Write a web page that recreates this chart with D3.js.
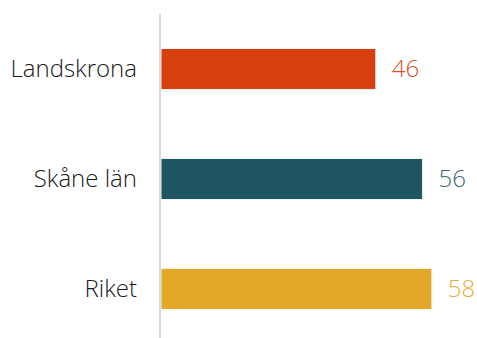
<!DOCTYPE html>
<html>
<head>
<meta charset="utf-8">
<script src="https://cdn.jsdelivr.net/npm/d3@7"></script>
<style>
  html, body { margin: 0; padding: 0; background: #ffffff; }
  svg { display: block; }
  text { font-family: "Open Sans", "Lato", sans-serif; font-weight: 300; }
</style>
</head>
<body>
<svg id="chart" width="477" height="338"></svg>
<script>
// Region names and their values
const categories = ["Landskrona", "Skåne län", "Riket"];
const values = [46, 56, 58];
const barColors = ["#d83f0f", "#1f5560", "#e4a828"];
const labelColors = ["#d9502a", "#3a6870", "#e8ad38"];

const width = 477, height = 338;
const axisX = 160;

const svg = d3.select("#chart");

const y = d3.scaleBand()
  .domain(categories)
  .range([14, 344])
  .paddingInner(0.627)
  .paddingOuter(0.3136);

const x = d3.scaleLinear()
  .domain([0, 100])
  .range([axisX + 1, axisX + 1 + 467]);

// Bars
svg.selectAll("rect.bar")
  .data(categories)
  .join("rect")
  .attr("class", "bar")
  .attr("x", x(0))
  .attr("y", d => y(d))
  .attr("width", (d, i) => x(values[i]) - x(0))
  .attr("height", y.bandwidth())
  .attr("fill", (d, i) => barColors[i])
  .attr("stroke", "#eef7f4")
  .attr("stroke-width", 1);

// Vertical axis line
svg.append("line")
  .attr("x1", axisX).attr("x2", axisX)
  .attr("y1", 14).attr("y2", height)
  .attr("stroke", "#d9d9d9")
  .attr("stroke-width", 2);

// Category labels
svg.selectAll("text.cat")
  .data(categories)
  .join("text")
  .attr("class", "cat")
  .attr("x", axisX - 23)
  .attr("y", d => y(d) + y.bandwidth() / 2)
  .attr("dy", "0.35em")
  .attr("text-anchor", "end")
  .attr("font-size", 24)
  .attr("fill", "#1a1a1a")
  .text(d => d);

// Value labels
svg.selectAll("text.val")
  .data(categories)
  .join("text")
  .attr("class", "val")
  .attr("x", (d, i) => x(values[i]) + 16)
  .attr("y", d => y(d) + y.bandwidth() / 2)
  .attr("dy", "0.35em")
  .attr("text-anchor", "start")
  .attr("font-size", 24)
  .attr("fill", (d, i) => labelColors[i])
  .text((d, i) => values[i]);
</script>
</body>
</html>
